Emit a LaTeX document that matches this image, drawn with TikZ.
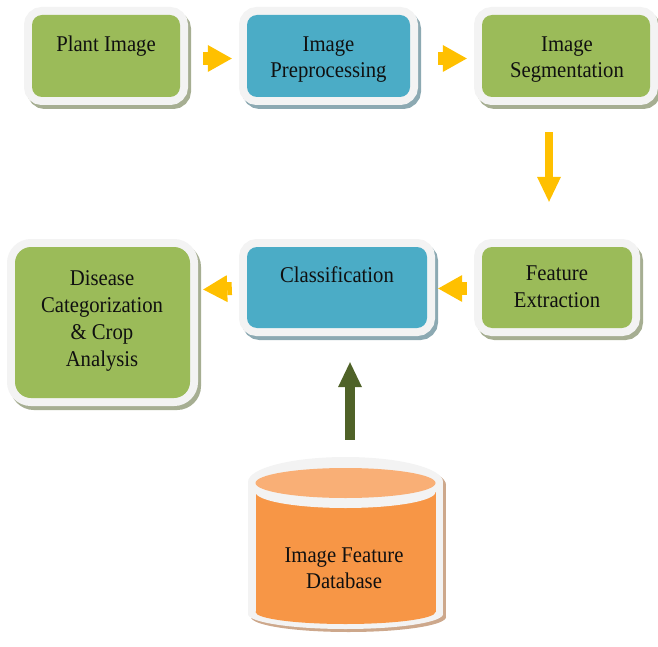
\documentclass[tikz,border=0pt]{standalone}
\usepackage{fontspec}
\usepackage{graphicx}
\setmainfont{Liberation Serif}
\usetikzlibrary{arrows.meta}

\definecolor{leaf}{HTML}{9BBB59}
\definecolor{sky}{HTML}{4BACC6}
\definecolor{amber}{HTML}{F79646}
\definecolor{amberlight}{HTML}{F9AF76}
\definecolor{framecol}{HTML}{F3F3F3}
\definecolor{leafshade}{HTML}{A6AE92}
\definecolor{skyshade}{HTML}{8CA9B2}
\definecolor{ambershade}{HTML}{CDA88C}
\definecolor{gold}{HTML}{FFC000}
\definecolor{olive}{HTML}{4F6228}
\definecolor{ink}{HTML}{101010}

% slightly condensed serif text
\newcommand{\narrow}[1]{\scalebox{0.92}[1]{#1}}

\tikzset{
  panel/.style 2 args={rectangle, rounded corners=10pt, inner sep=0pt,
    preaction={draw=#2, line width=16pt, transform canvas={shift={(3pt,-4pt)}}},
    preaction={draw=framecol, line width=16pt},
    fill=#1},
  greenpanel/.style={panel={leaf}{leafshade}},
  bluepanel/.style={panel={sky}{skyshade}},
  lbl/.style={font=\rmfamily\fontsize{22.5}{27}\selectfont, text=ink, inner sep=0pt, anchor=base},
  flowarrow/.style={color=gold, line width=13pt,
    -{Triangle[width=27pt,length=24pt,line width=0pt]}},
  downarrow/.style={color=gold, line width=8pt,
    -{Triangle[width=24pt,length=25pt,line width=0pt]}},
  feedarrow/.style={color=olive, line width=10pt,
    -{Triangle[width=24pt,length=25pt,line width=0pt]}}
}

\begin{document}
\begin{tikzpicture}[x=1pt,y=-1pt]
\useasboundingbox (0,0) rectangle (658,647);

% process boxes (inner coloured panels; frame and shadow come from the style)
\node[greenpanel, minimum width=148pt, minimum height=82pt] (plant) at (106,56) {};
\node[bluepanel,  minimum width=163pt, minimum height=82pt] (pre)   at (328.5,56) {};
\node[greenpanel, minimum width=168pt, minimum height=82pt] (seg)   at (566,56) {};
\node[greenpanel, minimum width=150pt, minimum height=81pt] (feat)  at (557,287.5) {};
\node[bluepanel,  minimum width=180pt, minimum height=81pt] (cls)   at (337,287.5) {};
\node[greenpanel, rounded corners=16pt, minimum width=175pt, minimum height=151pt] (dis) at (102.5,322.5) {};

% database cylinder: shadow, white rim, orange body, light top
\node[minimum width=195pt, minimum height=173pt, inner sep=0pt] (db) at (345.5,543.5) {};
\begin{scope}[shift={(3pt,-3pt)}]
  \fill[ambershade] (345.5,482) ellipse (97.5 and 25);
  \fill[ambershade] (248,482) rectangle (443,614);
  \fill[ambershade] (345.5,614) ellipse (97.5 and 15);
\end{scope}
\fill[framecol] (345.5,482) ellipse (97.5 and 25);
\fill[framecol] (248,482) rectangle (443,614);
\fill[framecol] (345.5,614) ellipse (97.5 and 15);
\fill[amber] (255.5,492) rectangle (435.5,612);
\fill[amber] (345.5,612) ellipse (90 and 12);
\fill[framecol] (345.5,492) ellipse (90 and 16);
\fill[amberlight] (345.5,483) ellipse (90 and 15);

% labels
\node[lbl] (plantT) at (106,52) {\narrow{Plant Image}};
\node[lbl] (preT1) at (328.5,52) {\narrow{Image}};
\node[lbl] (preT2) at (328.5,78) {\narrow{Preprocessing}};
\node[lbl] (segT1) at (567,52) {\narrow{Image}};
\node[lbl] (segT2) at (567,78) {\narrow{Segmentation}};
\node[lbl] (featT1) at (557,280) {\narrow{Feature}};
\node[lbl] (featT2) at (557,307) {\narrow{Extraction}};
\node[lbl] (clsT) at (337,282) {\narrow{Classification}};
\node[lbl] (disT1) at (102,285) {\narrow{Disease}};
\node[lbl] (disT2) at (102,312) {\narrow{Categorization}};
\node[lbl] (disT3) at (102,339) {\narrow{\& Crop}};
\node[lbl] (disT4) at (102,366) {\narrow{Analysis}};
\node[lbl] (dbT1) at (344,562) {\narrow{Image Feature}};
\node[lbl] (dbT2) at (344,588) {\narrow{Database}};

% connectors
\draw[flowarrow] ([xshift=23pt,yshift=-2.5pt]plant.east) -- ([xshift=-15pt,yshift=-2.5pt]pre.west);
\draw[flowarrow] ([xshift=28pt,yshift=-2.5pt]pre.east) -- ([xshift=-15pt,yshift=-2.5pt]seg.west);
\draw[downarrow] ([xshift=-17pt,yshift=-35pt]seg.south) -- ([xshift=-8pt,yshift=45pt]feat.north);
\draw[flowarrow] ([xshift=-15pt,yshift=-1pt]feat.west) -- ([xshift=11pt,yshift=-1pt]cls.east);
\draw[flowarrow] ([xshift=-15pt,yshift=-1pt]cls.west) -- ([xshift=13pt,yshift=33pt]dis.east);
\draw[feedarrow] ([xshift=4.5pt,yshift=17pt]db.north) -- ([xshift=13pt,yshift=-34pt]cls.south);
\end{tikzpicture}
\end{document}
